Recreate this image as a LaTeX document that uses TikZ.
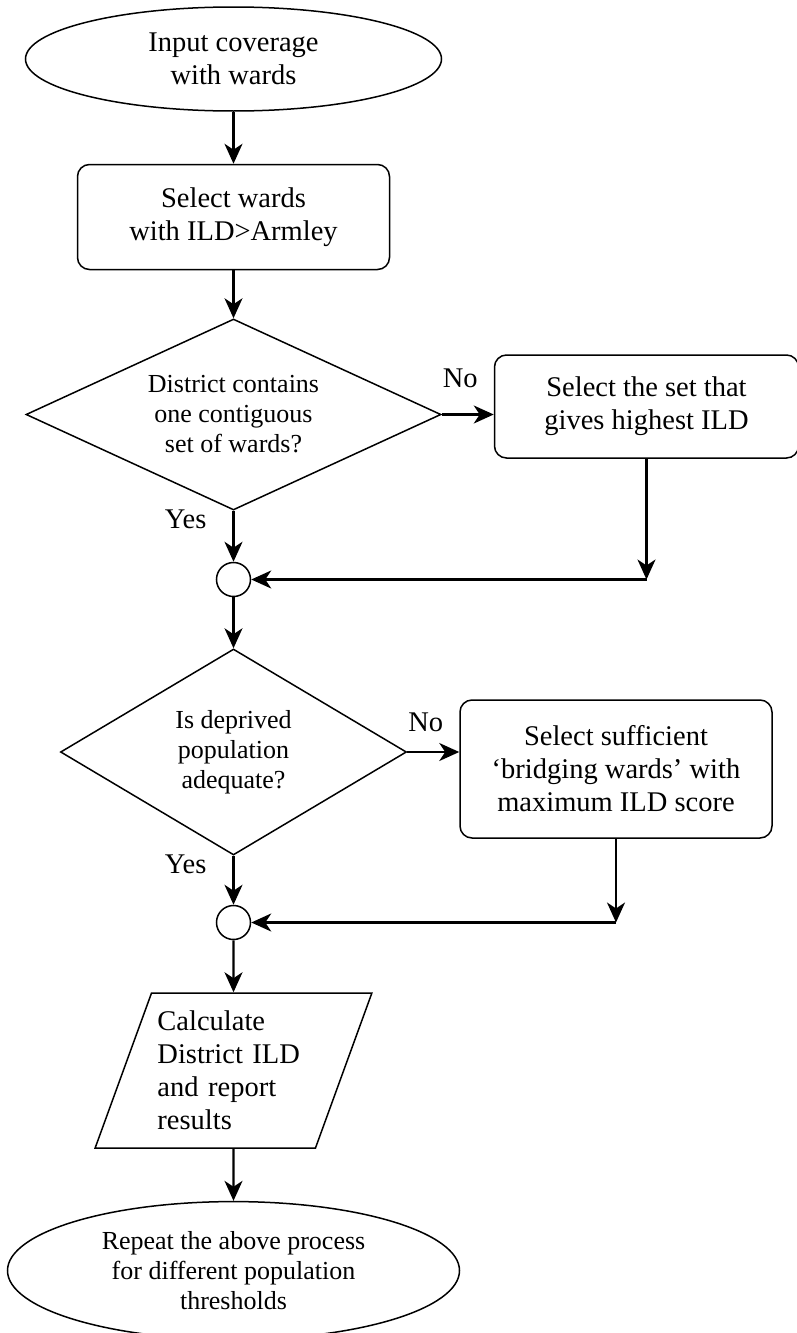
\documentclass[tikz,border=0pt]{standalone}
\usepackage{fontspec}
\setmainfont{Liberation Serif}
\usetikzlibrary{shapes.geometric, arrows.meta, positioning}

\begin{document}
\begin{tikzpicture}[>={Stealth[length=10pt, width=9pt, inset=3pt]}, node distance=26pt,
        base/.style={draw, line width=0.75pt, inner sep=0pt, align=center, font=\fontsize{14.25}{16.5}\selectfont},
        term/.style={base, ellipse},
        box/.style={base, rectangle, rounded corners=6pt},
        test/.style={base, diamond, font=\fontsize{13}{15}\selectfont},
        joint/.style={base, circle, minimum size=17pt},
        io/.style={base, trapezium, trapezium left angle=70, trapezium right angle=110, trapezium stretches=true, align=left, text width=76pt, inner xsep=3pt, inner ysep=9pt, minimum height=77.5pt},
        lbl/.style={inner sep=0pt, font=\fontsize{14.25}{16.5}\selectfont},
        arrow/.style={->, line width=1.1pt}]

    \useasboundingbox (0,0) rectangle (398.5pt,-666.5pt);

    \node[term, minimum width=208pt, minimum height=52pt] (n1) at (116.75pt,-29.5pt) {Input coverage\\with wards};
    \node[box, below=of n1, minimum width=156pt, minimum height=52.5pt] (n2) {Select wards\\with ILD>Armley};
    \node[test, below=24pt of n2, minimum width=207.5pt, minimum height=95.5pt, aspect=2.17] (n3) {District contains\\one contiguous\\set of wards?};
    \node[box, right=of n3, yshift=4pt, minimum width=152pt, minimum height=51.5pt] (n4) {Select the set that\\gives highest ILD};
    \node[joint, below=25.5pt of n3] (n5) {};
    \node[test, below=25.5pt of n5, minimum width=173pt, minimum height=103pt, aspect=1.68] (n6) {Is deprived\\population\\adequate?};
    \node[box, right=of n6, yshift=-8.5pt, minimum width=156pt, minimum height=69pt] (n7) {Select sufficient\\`bridging wards' with\\maximum ILD score};
    \node[joint, below=24.5pt of n6] (n8) {};
    \node[io, below=of n8, minimum width=138.5pt] (n9) {Calculate\\District ILD\\and report\\results};
    \node[term, below=of n9, minimum width=226pt, minimum height=69pt, font=\fontsize{13}{15}\selectfont] (n10) {Repeat the above process\\for different population\\thresholds};

    \coordinate (c1) at (n4.south |- n5);
    \coordinate (c2) at (n7.south |- n8);

    \draw[arrow] (n1) -- (n2);
    \draw[arrow] (n2) -- (n3);
    \draw[arrow] (n3.east) -- node[lbl, pos=0, anchor=south west, yshift=13pt] {No} (n3.east -| n4.west);
    \draw[arrow] (n3) -- node[lbl, pos=0, anchor=north east, xshift=-13pt, yshift=1pt] {Yes} (n5);
    \draw[arrow] (n4.south) -- (c1);
    \draw[arrow] (c1) -- (n5);
    \draw[arrow] (n5) -- (n6);
    \draw[arrow] (n6.east) -- node[lbl, pos=0, anchor=south west, yshift=9.5pt] {No} (n6.east -| n7.west);
    \draw[arrow] (n6) -- node[lbl, pos=0, anchor=north east, xshift=-13pt, yshift=1pt] {Yes} (n8);
    \draw[arrow] (n7.south) -- (c2);
    \draw[arrow] (c2) -- (n8);
    \draw[arrow] (n8) -- (n9);
    \draw[arrow] (n9) -- (n10);
\end{tikzpicture}
\end{document}
